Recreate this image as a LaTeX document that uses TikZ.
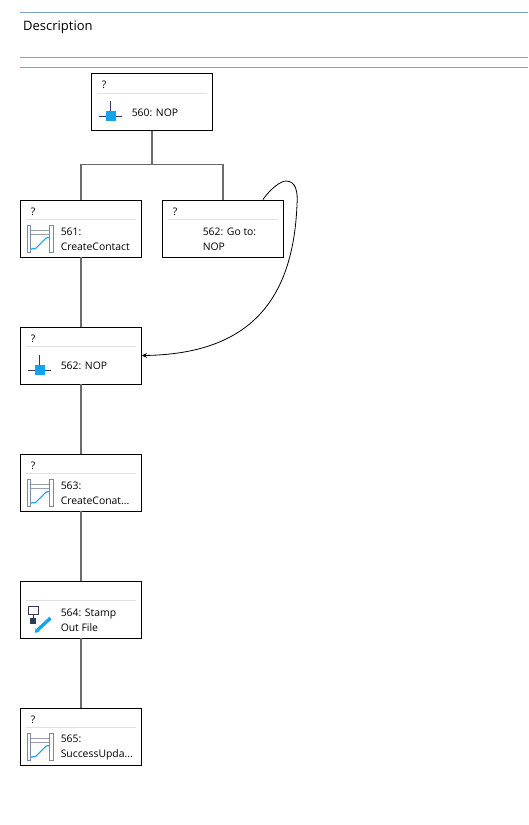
\documentclass[tikz,border=0pt]{standalone}
\usepackage{fontspec}
\setmainfont{Open Sans}
\usetikzlibrary{arrows.meta}
\definecolor{rulecol}{HTML}{7FA3C7}
\definecolor{iconblue}{HTML}{12A5EC}
\definecolor{icondark}{HTML}{2E3A59}
\definecolor{postcol}{HTML}{7D8A9C}
\tikzset{
  stepnode/.style={draw=black,fill=white,line width=0.9pt,minimum width=121pt,minimum height=57pt,inner sep=0pt},
  qmark/.style={font=\fontsize{10.4}{15}\selectfont,inner sep=0pt},
  steptext/.style={font=\fontsize{10.4}{15}\selectfont,align=left,anchor=west,inner sep=0pt},
  wire/.style={draw=black!58,line width=1.4pt},
  headrule/.style={draw=rulecol,line width=1pt},
  pics/nopicon/.style={code={
    \draw[icondark,line width=0.6pt] (19.5,28) -- (19.5,40);
    \draw[icondark,line width=0.6pt] (8,43.5) -- (31,43.5);
    \fill[iconblue] (15,38.5) rectangle (25,48);
  }},
  pics/loopicon/.style={code={
    \draw[postcol,fill=white,line width=0.8pt] (7.2,26) rectangle (10.5,52.7);
    \draw[postcol,fill=white,line width=0.8pt] (29.2,26) rectangle (33,52.7);
    \draw[postcol!80,line width=1pt] (10.5,30.5) -- (29.2,30.5);
    \draw[postcol!80,line width=1pt] (10.5,34.5) -- (29.2,34.5);
    \draw[iconblue,line width=1.2pt] (10.5,49.5) -- (15.5,49) -- (26,38.5) -- (29.2,38);
  }},
  pics/stampicon/.style={code={
    \draw[icondark,line width=0.6pt] (8.5,25.7) rectangle (18.5,33.3);
    \draw[icondark,line width=0.6pt] (13.5,33.3) -- (13.5,37.3);
    \fill[icondark] (10.2,37.3) rectangle (16.2,43);
    \draw[iconblue,line width=3.4pt] (17.5,49.5) -- (30.5,37.5);
    \fill[iconblue] (14.8,52.2) -- (15.6,47.6) -- (19.4,51.4) -- cycle;
  }},
}
\begin{document}
\begin{tikzpicture}[x=1pt,y=-1pt,>={Stealth[length=5pt,width=5pt]}]
\useasboundingbox (0,0) rectangle (528,825);
%% header
\draw[headrule] (20,12.5) -- (528,12.5);
\draw[headrule] (20,57.5) -- (528,57.5);
\draw[headrule] (20,67.5) -- (528,67.5);
\node[anchor=west,inner sep=0pt,font=\fontsize{13}{15}\selectfont] (desc) at (23,27.5) {Description};
%% boxes
\coordinate (fork) at (152,164.5);
\node[stepnode] (n560) at (152,101.75) {};
\node[stepnode] (n561) at (81,228.5) {};
\node[stepnode] (ngoto) at (223,228.5) {};
\node[stepnode] (n562) at (81,355.5) {};
\node[stepnode] (n563) at (81,482.5) {};
\node[stepnode] (n564) at (81,609.5) {};
\node[stepnode] (n565) at (81,736.5) {};
%% wires
\draw[wire] (n560) -- (fork);
\draw[wire] (fork) -| (n561);
\draw[wire] (fork) -| (ngoto);
\draw[wire] (n561) -- (n562);
\draw[wire] (n562) -- (n563);
\draw[wire] (n563) -- (n564);
\draw[wire] (n564) -- (n565);
%% 560
\node[qmark] (q560) at ([xshift=13pt,yshift=-12pt]n560.north west) {?};
\draw[black!12] ([xshift=6pt,yshift=-20pt]n560.north west) -- ([xshift=-6pt,yshift=-20pt]n560.north east);
\pic at (n560.north west) {nopicon};
\node[steptext] (t560) at ([xshift=40.5pt,yshift=-39.5pt]n560.north west) {560: NOP};
%% 561
\node[qmark] (q561) at ([xshift=13pt,yshift=-12pt]n561.north west) {?};
\draw[black!12] ([xshift=6pt,yshift=-20pt]n561.north west) -- ([xshift=-6pt,yshift=-20pt]n561.north east);
\pic at (n561.north west) {loopicon};
\node[steptext] (t561) at ([xshift=40.5pt,yshift=-40pt]n561.north west) {561:\\CreateContact};
%% goto
\node[qmark] (qgoto) at ([xshift=13pt,yshift=-12pt]ngoto.north west) {?};
\draw[black!12] ([xshift=6pt,yshift=-20pt]ngoto.north west) -- ([xshift=-6pt,yshift=-20pt]ngoto.north east);
\node[steptext] (tgoto) at ([xshift=40.5pt,yshift=-40pt]ngoto.north west) {562: Go to:\\NOP};
%% 562
\node[qmark] (q562) at ([xshift=13pt,yshift=-12pt]n562.north west) {?};
\draw[black!12] ([xshift=6pt,yshift=-20pt]n562.north west) -- ([xshift=-6pt,yshift=-20pt]n562.north east);
\pic at (n562.north west) {nopicon};
\node[steptext] (t562) at ([xshift=40.5pt,yshift=-39.5pt]n562.north west) {562: NOP};
%% 563
\node[qmark] (q563) at ([xshift=13pt,yshift=-12pt]n563.north west) {?};
\draw[black!12] ([xshift=6pt,yshift=-20pt]n563.north west) -- ([xshift=-6pt,yshift=-20pt]n563.north east);
\pic at (n563.north west) {loopicon};
\node[steptext] (t563) at ([xshift=40.5pt,yshift=-40pt]n563.north west) {563:\\CreateConat...};
%% 564
\draw[black!12] ([xshift=6pt,yshift=-20pt]n564.north west) -- ([xshift=-6pt,yshift=-20pt]n564.north east);
\pic at (n564.north west) {stampicon};
\node[steptext] (t564) at ([xshift=40.5pt,yshift=-40pt]n564.north west) {564: Stamp\\Out File};
%% 565
\node[qmark] (q565) at ([xshift=13pt,yshift=-12pt]n565.north west) {?};
\draw[black!12] ([xshift=6pt,yshift=-20pt]n565.north west) -- ([xshift=-6pt,yshift=-20pt]n565.north east);
\pic at (n565.north west) {loopicon};
\node[steptext] (t565) at ([xshift=40.5pt,yshift=-40pt]n565.north west) {565:\\SuccessUpda...};
%% jump back
\draw[->,line width=0.8pt] ([xshift=-21pt]ngoto.north east) .. controls (271,188) and (281,181) .. (286,181)
  .. controls (296,181) and (298,192) .. (297,205)
  .. controls (293,300) and (250,354) .. (n562.east);
\end{tikzpicture}
\end{document}
